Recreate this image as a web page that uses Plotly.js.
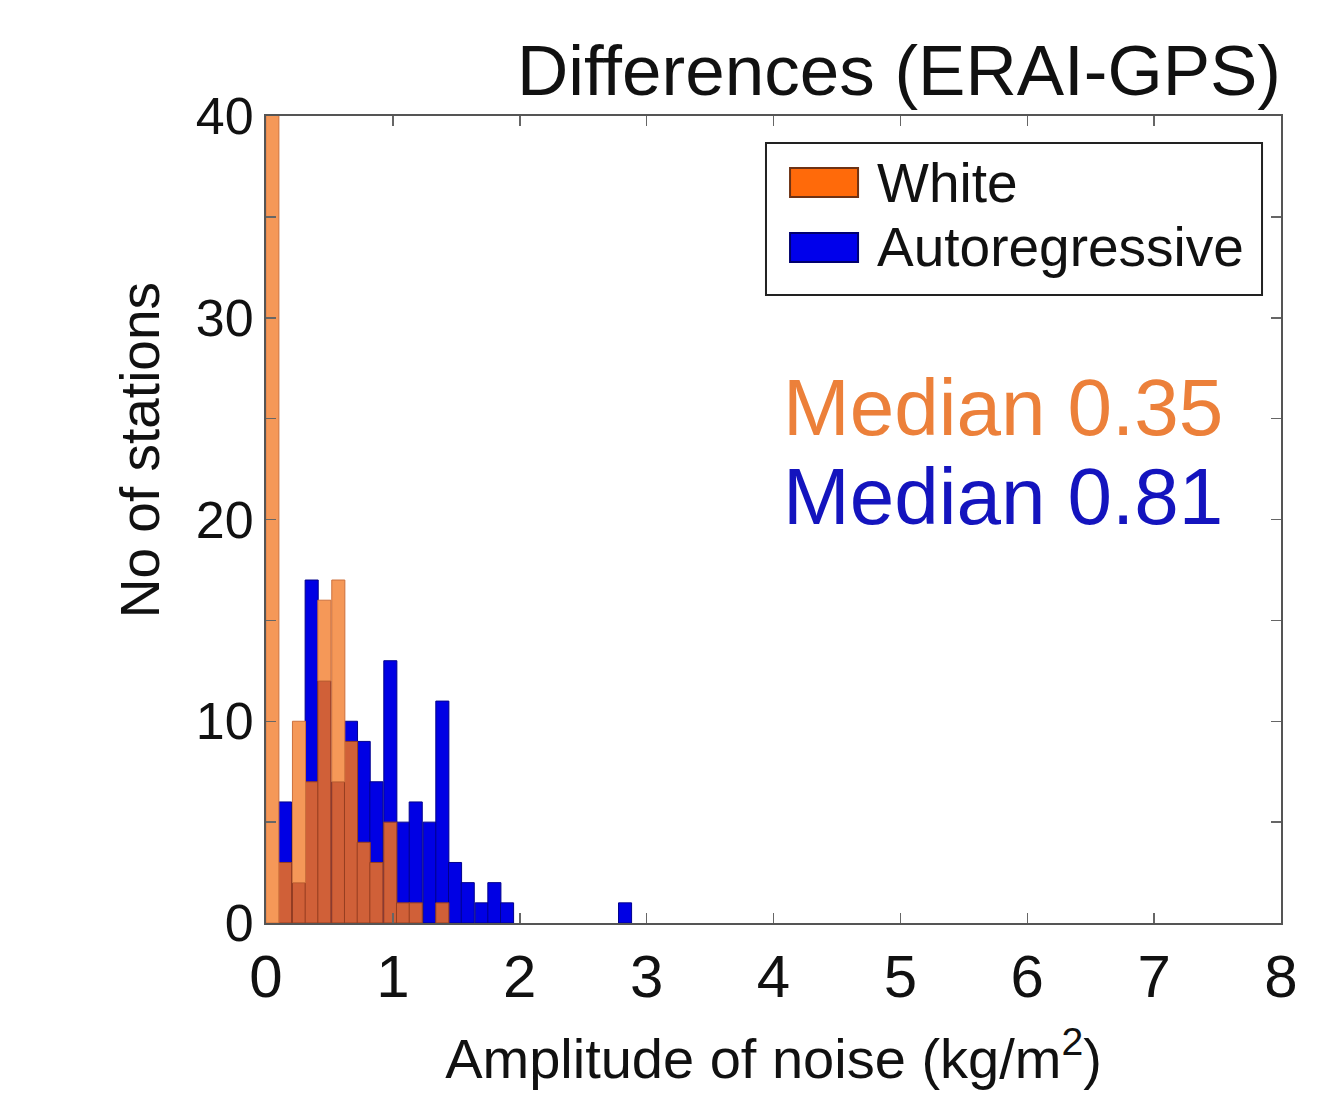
<!DOCTYPE html>
<html>
<head>
<meta charset="utf-8">
<script src="https://cdn.plot.ly/plotly-3.0.1.min.js"></script>
<style>
  html, body { margin: 0; padding: 0; background: #ffffff; }
  #chart { width: 1317px; height: 1093px; }
</style>
</head>
<body>
<div id="chart"></div>
<script>
// Histogram bin centres (kg/m^2) and bin width
const binCenters = [0.05, 0.15, 0.26, 0.36, 0.46, 0.57, 0.67, 0.77, 0.87, 0.98,
                    1.08, 1.18, 1.29, 1.39, 1.49, 1.59, 1.70, 1.80, 1.90, 2.01,
                    2.11, 2.21, 2.31, 2.42, 2.52, 2.62, 2.72, 2.83];
const binWidth = 0.103;

// Station counts per bin
const whiteCounts = [45, 3, 10, 7, 16, 17, 9, 4, 3, 5,
                     1, 1, 0, 1, 0, 0, 0, 0, 0, 0,
                     0, 0, 0, 0, 0, 0, 0, 0];
const arCounts    = [0, 6, 2, 17, 12, 7, 10, 9, 7, 13,
                     5, 6, 5, 11, 3, 2, 1, 2, 1, 0,
                     0, 0, 0, 0, 0, 0, 0, 1];

const seriesNames = ["White", "Autoregressive"];
const medianLabels = ["Median 0.35", "Median 0.81"];
const xTicks = [0, 1, 2, 3, 4, 5, 6, 7, 8];
const yTicks = [0, 10, 20, 30, 40];

// Derived arrays for drawing the translucent overlap look
const nz = v => (v > 0 ? v : null);
const overlap = whiteCounts.map((w, i) => Math.min(w, arCounts[i]));
const whiteAbove = whiteCounts.map((w, i) => Math.max(w - arCounts[i], 0));

const cBlue = "rgb(0,0,228)", cBlueLine = "rgb(0,0,140)";
const cOrDark = "rgb(208,96,56)", cOrDarkLine = "rgb(150,62,32)";
const cOrLight = "rgb(245,152,88)", cOrLightLine = "rgb(205,112,60)";

const traces = [
  {
    type: "bar", name: seriesNames[1], x: binCenters, y: arCounts.map(nz),
    width: binWidth, marker: { color: cBlue, line: { color: cBlueLine, width: 1 } },
    showlegend: false, hoverinfo: "x+y"
  },
  {
    type: "bar", name: seriesNames[0], x: binCenters, y: overlap.map(nz), base: 0,
    width: binWidth, marker: { color: cOrDark, line: { color: cOrDarkLine, width: 1 } },
    showlegend: false, hoverinfo: "x+y"
  },
  {
    type: "bar", name: seriesNames[0], x: binCenters, y: whiteAbove.map(nz), base: overlap,
    width: binWidth, marker: { color: cOrLight, line: { color: cOrLightLine, width: 1 } },
    showlegend: false, hoverinfo: "x+y"
  }
];

const FONT = "Liberation Sans, Arial, Helvetica, sans-serif";

const layout = {
  width: 1317, height: 1093,
  paper_bgcolor: "#ffffff", plot_bgcolor: "#ffffff",
  margin: { l: 266, r: 36, t: 116, b: 170 },
  barmode: "overlay",
  bargap: 0,
  showlegend: false,
  font: { family: FONT, color: "#111111" },
  title: {
    text: "Differences (ERAI-GPS)",
    font: { family: FONT, size: 71, color: "#111111" },
    xref: "paper", x: 1, xanchor: "right",
    yref: "container", y: 0.936, yanchor: "middle"
  },
  xaxis: {
    range: [0, 8], tickvals: xTicks, ticks: "inside", ticklen: 10, tickwidth: 1.5,
    tickcolor: "#666666", showline: true, linecolor: "#555555", linewidth: 2,
    mirror: "ticks", showgrid: false, zeroline: false,
    tickfont: { family: FONT, size: 60, color: "#111111" },
    title: { text: "Amplitude of noise (kg/m<sup>2</sup>)", font: { family: FONT, size: 56, color: "#111111" }, standoff: 30 }
  },
  yaxis: {
    range: [0, 40], tickvals: yTicks, ticks: "inside", ticklen: 10, tickwidth: 1.5,
    tickcolor: "#666666", showline: true, linecolor: "#555555", linewidth: 2,
    mirror: "ticks", showgrid: false, zeroline: false,
    minor: { dtick: 5, ticks: "inside", ticklen: 10, tickwidth: 1.5, tickcolor: "#666666", showgrid: false },
    tickfont: { family: FONT, size: 52, color: "#111111" }
  },
  shapes: [
    { type: "rect", xref: "paper", yref: "paper", x0: 0.4926, x1: 0.9813, y0: 0.7782, y1: 0.9665,
      line: { color: "#222222", width: 2 }, fillcolor: "#ffffff" },
    { type: "rect", xref: "paper", yref: "paper", x0: 0.5163, x1: 0.5833, y0: 0.8996, y1: 0.9356,
      line: { color: "rgb(110,50,20)", width: 2 }, fillcolor: "rgb(255,106,10)" },
    { type: "rect", xref: "paper", yref: "paper", x0: 0.5163, x1: 0.5833, y0: 0.8191, y1: 0.8550,
      line: { color: "rgb(0,0,110)", width: 2 }, fillcolor: "rgb(0,0,235)" }
  ],
  annotations: [
    { text: seriesNames[0], xref: "paper", yref: "paper", x: 0.6, y: 0.917, xanchor: "left", yanchor: "middle",
      showarrow: false, font: { family: FONT, size: 55, color: "#111111" } },
    { text: seriesNames[1], xref: "paper", yref: "paper", x: 0.6, y: 0.8377, xanchor: "left", yanchor: "middle",
      showarrow: false, font: { family: FONT, size: 55, color: "#111111" } },
    { text: medianLabels[0], xref: "paper", yref: "paper", x: 0.507, y: 0.639, xanchor: "left", yanchor: "middle",
      showarrow: false, font: { family: FONT, size: 80, color: "rgb(236,128,58)" } },
    { text: medianLabels[1], xref: "paper", yref: "paper", x: 0.507, y: 0.528, xanchor: "left", yanchor: "middle",
      showarrow: false, font: { family: FONT, size: 80, color: "rgb(20,20,190)" } },
    { text: "No of stations", xref: "paper", yref: "paper", x: -0.124, y: 0.586, xanchor: "center", yanchor: "middle",
      textangle: -90, showarrow: false, font: { family: FONT, size: 55, color: "#111111" } }
  ]
};

Plotly.newPlot("chart", traces, layout, { displayModeBar: false, staticPlot: true });
</script>
</body>
</html>
